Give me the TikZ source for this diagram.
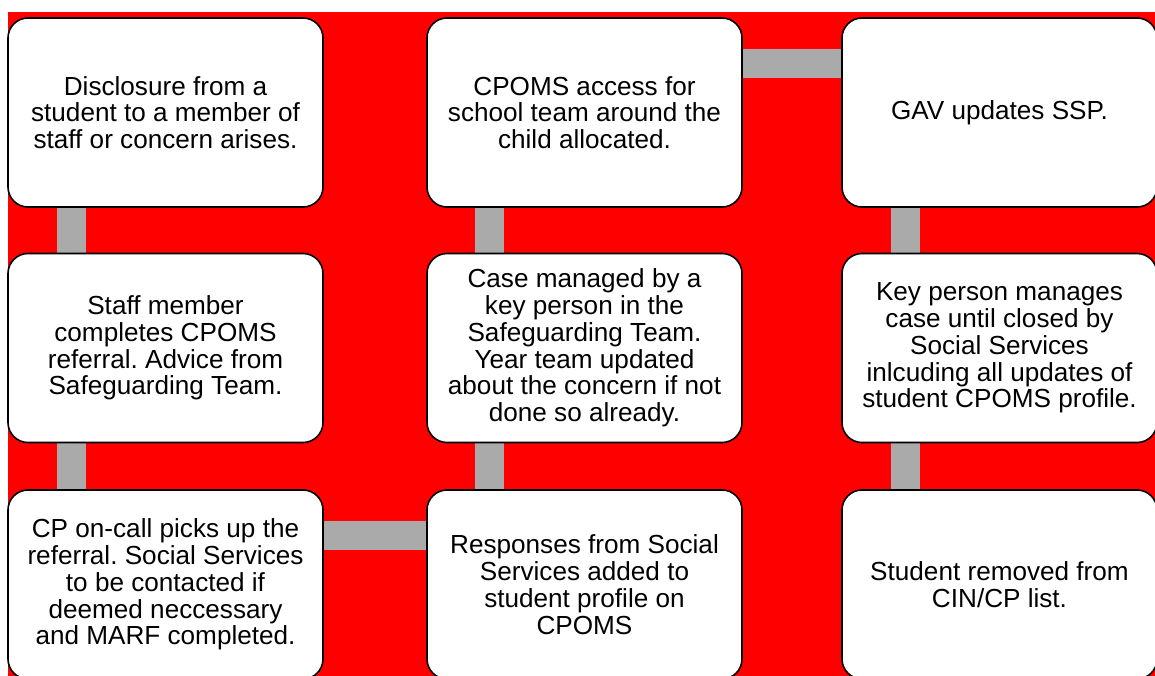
\documentclass[tikz,border=0pt]{standalone}
\usepackage{fontspec}
\setmainfont{Liberation Sans}
\usetikzlibrary{calc}
\definecolor{bgred}{HTML}{FF0000}
\definecolor{conngray}{HTML}{AAAAAA}
\pgfdeclarelayer{bglayer}
\pgfdeclarelayer{connlayer}
\pgfsetlayers{bglayer,connlayer,main}
\frenchspacing
\begin{document}
\begin{tikzpicture}[x=0.75pt,y=-0.75pt,
  stepbox/.style={draw=black,line width=1.2pt,fill=white,rounded corners=15pt,
    minimum width=236.25pt,minimum height=141.75pt,inner sep=0pt,
    align=center,font=\fontsize{19.6pt}{20.1pt}\selectfont},
  conn/.style={draw=conngray,line width=21.75pt}]
\useasboundingbox (0,0) rectangle (1155,675);
\begin{pgfonlayer}{bglayer}
\fill[bgred] (8,12) rectangle (1160,680);
\end{pgfonlayer}
% boxes
\node[stepbox] (b1) at (165.5,112.5) {Disclosure from a\\student to a member of\\staff or concern arises.};
\node[stepbox] (b2) at (165.5,348) {Staff member\\completes CPOMS\\referral. Advice from\\Safeguarding Team.};
\node[stepbox] (b3) at (165.5,584.5) {CP on-call picks up the\\referral. Social Services\\to be contacted if\\deemed neccessary\\and MARF completed.};
\node[stepbox] (b4) at (584.5,584.5) {Responses from Social\\Services added to\\student profile on\\CPOMS};
\node[stepbox] (b5) at (584.5,348) {Case managed by a\\key person in the\\Safeguarding Team.\\Year team updated\\about the concern if not\\done so already.};
\node[stepbox] (b6) at (584.5,112.5) {CPOMS access for\\school team around the\\child allocated.};
\node[stepbox] (b7) at (999.5,112.5) {GAV updates SSP.};
\node[stepbox] (b8) at (999.5,348) {Key person manages\\case until closed by\\Social Services\\inlcuding all updates of\\student CPOMS profile.};
\node[stepbox] (b9) at (999.5,584.5) {Student removed from\\CIN/CP list.};
% connectors (behind boxes)
\begin{pgfonlayer}{connlayer}
\draw[conn] ($(b1.south west)+(64.5,-1)$) -- ($(b2.north west)+(64.5,1)$);
\draw[conn] ($(b2.south west)+(64.5,-1)$) -- ($(b3.north west)+(64.5,1)$);
\draw[conn] ($(b3.north east)+(-1,46.5)$) -- ($(b4.north west)+(1,46.5)$);
\draw[conn] ($(b4.north west)+(63.5,1)$) -- ($(b5.south west)+(63.5,-1)$);
\draw[conn] ($(b5.north west)+(63.5,1)$) -- ($(b6.south west)+(63.5,-1)$);
\draw[conn] ($(b6.north east)+(-1,46.5)$) -- ($(b7.north west)+(1,46.5)$);
\draw[conn] ($(b7.south west)+(64.5,-1)$) -- ($(b8.north west)+(64.5,1)$);
\draw[conn] ($(b8.south west)+(64.5,-1)$) -- ($(b9.north west)+(64.5,1)$);
\end{pgfonlayer}
\end{tikzpicture}
\end{document}
